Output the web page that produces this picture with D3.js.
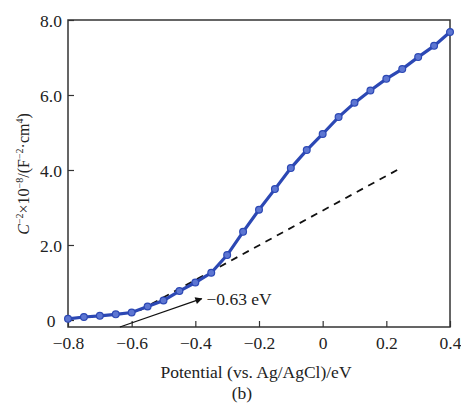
<html>
<script src="https://d3js.org/d3.v7.min.js"></script>
<style>
    body { margin: 0; background: #fff; }
    svg { font-family: "Liberation Serif", "Times New Roman", serif; }
    .frame { fill: none; stroke: #333; stroke-width: 1.5px; }
    .series { fill: none; stroke: #2c48b4; stroke-width: 3.2px; }
    .dot { fill: #5d76d2; stroke: #2c48b4; stroke-width: 1.2px; }
    .fit { fill: none; stroke: #111; stroke-width: 1.8px; stroke-dasharray: 7,6; }
    .arrow { stroke: #111; stroke-width: 1.2px; }
</style>
<body>
<svg width=461 height=408></svg>
<script>
    // potential (V vs Ag/AgCl) and C^-2 (x10^8)
    let potential = [-0.8, -0.75, -0.7, -0.65, -0.6, -0.55, -0.5, -0.45, -0.4, -0.35, -0.3, -0.25, -0.2,
                     -0.15, -0.1, -0.05, 0, 0.05, 0.1, 0.15, 0.2, 0.25, 0.3, 0.35, 0.4];
    let invC2 = [0.03, 0.08, 0.11, 0.15, 0.2, 0.36, 0.52, 0.77, 1.0, 1.26, 1.73, 2.35, 2.94,
                 3.49, 4.05, 4.53, 4.96, 5.41, 5.79, 6.12, 6.43, 6.69, 7.01, 7.31, 7.68];
    // extrapolated linear fit (dashed)
    let fitX = [-0.6, 0.234];
    let fitY = [0.14, 4.0];
    let xTicks = [-0.8, -0.6, -0.4, -0.2, 0, 0.2, 0.4];
    let xTickLabels = ['\u22120.8', '\u22120.6', '\u22120.4', '\u22120.2', '0', '0.2', '0.4'];
    let yTicks = [0, 2, 4, 6, 8];
    let yTickLabels = ['0', '2.0', '4.0', '6.0', '8.0'];

    const SERIF = '"Liberation Serif", "Times New Roman", serif';

    let svg = d3.select('svg'),
        margin = { top: 20, right: 11, bottom: 81, left: 68 },
        width = +svg.attr('width') - margin.left - margin.right,
        height = +svg.attr('height') - margin.top - margin.bottom;

    let g = svg.append('g')
        .attr('transform', 'translate(' + margin.left + ',' + margin.top + ')');

    let x = d3.scaleLinear().domain([-0.8, 0.4]).range([0, width]);
    let y = d3.scaleLinear().domain([-0.187, 8]).range([height, 0]);

    let defs = svg.append('defs');
    defs.append('marker')
        .attr('id', 'head')
        .attr('viewBox', '0 0 10 10')
        .attr('refX', 9).attr('refY', 5)
        .attr('markerWidth', 9).attr('markerHeight', 7)
        .attr('markerUnits', 'userSpaceOnUse')
        .attr('orient', 'auto')
      .append('path')
        .attr('d', 'M0,0L10,5L0,10Z')
        .attr('fill', '#111');

    // axes with inward ticks
    let xAxis = d3.axisBottom(x).tickValues(xTicks)
        .tickFormat((d, i) => xTickLabels[i]).tickSize(-6).tickPadding(10);
    let yAxis = d3.axisLeft(y).tickValues(yTicks)
        .tickFormat((d, i) => yTickLabels[i]).tickSize(-6).tickPadding(0);

    let gx = g.append('g').attr('transform', 'translate(0,' + height + ')').call(xAxis);
    let gy = g.append('g').call(yAxis);
    [gx, gy].forEach(a => {
        a.attr('font-family', SERIF).attr('font-size', 17.5);
        a.select('.domain').remove();
        a.selectAll('.tick line').attr('stroke', '#333').attr('stroke-width', 1.2);
        a.selectAll('.tick text').style('font-family', SERIF).attr('fill', '#222');
    });
    gx.selectAll('.tick text').attr('dy', '0.71em');
    gy.selectAll('.tick text').attr('text-anchor', 'middle').attr('x', -17).attr('dy', '0.35em');

    g.append('rect').attr('class', 'frame')
        .attr('x', 0).attr('y', 0).attr('width', width).attr('height', height);

    // dashed tangent
    g.append('line').attr('class', 'fit')
        .attr('x1', x(fitX[1])).attr('y1', y(fitY[1]))
        .attr('x2', x(fitX[0])).attr('y2', y(fitY[0]));

    // arrow from intercept to label
    g.append('line').attr('class', 'arrow')
        .attr('x1', x(-0.637)).attr('y1', y(-0.187))
        .attr('x2', x(-0.38)).attr('y2', y(0.57))
        .attr('marker-end', 'url(#head)');

    g.append('text')
        .attr('x', x(-0.365)).attr('y', y(0.4))
        .attr('font-size', 17.5).attr('fill', '#222')
        .text('\u22120.63 eV');

    let pts = potential.map((p, i) => [p, invC2[i]]);

    g.append('path').attr('class', 'series')
        .datum(pts)
        .attr('d', d3.line().x(d => x(d[0])).y(d => y(d[1])));

    g.selectAll('.dot')
        .data(pts)
        .enter().append('circle')
        .attr('class', 'dot')
        .attr('cx', d => x(d[0]))
        .attr('cy', d => y(d[1]))
        .attr('r', 3.4);

    // axis titles
    svg.append('text')
        .attr('x', margin.left + width / 2 - 3).attr('y', 378)
        .attr('text-anchor', 'middle').attr('font-size', 17.5).attr('fill', '#222')
        .text('Potential (vs. Ag/AgCl)/eV');

    svg.append('text')
        .attr('x', 242).attr('y', 399)
        .attr('text-anchor', 'middle').attr('font-size', 17.5).attr('fill', '#222')
        .text('(b)');

    let yl = svg.append('text')
        .attr('transform', 'translate(29,' + (margin.top + y(4) + 4) + ') rotate(-90)')
        .attr('text-anchor', 'middle').attr('font-size', 16).attr('fill', '#222');
    yl.append('tspan').attr('font-style', 'italic').text('C');
    yl.append('tspan').attr('font-size', 10).attr('dy', -6).text('\u22122');
    yl.append('tspan').attr('dy', 6).text('\u00d710');
    yl.append('tspan').attr('font-size', 10).attr('dy', -6).text('\u22128');
    yl.append('tspan').attr('dy', 6).text('/(F');
    yl.append('tspan').attr('font-size', 10).attr('dy', -6).text('\u22122');
    yl.append('tspan').attr('dy', 6).text('\u00b7cm');
    yl.append('tspan').attr('font-size', 10).attr('dy', -6).text('4');
    yl.append('tspan').attr('dy', 6).text(')');
</script>
</body>
</html>
